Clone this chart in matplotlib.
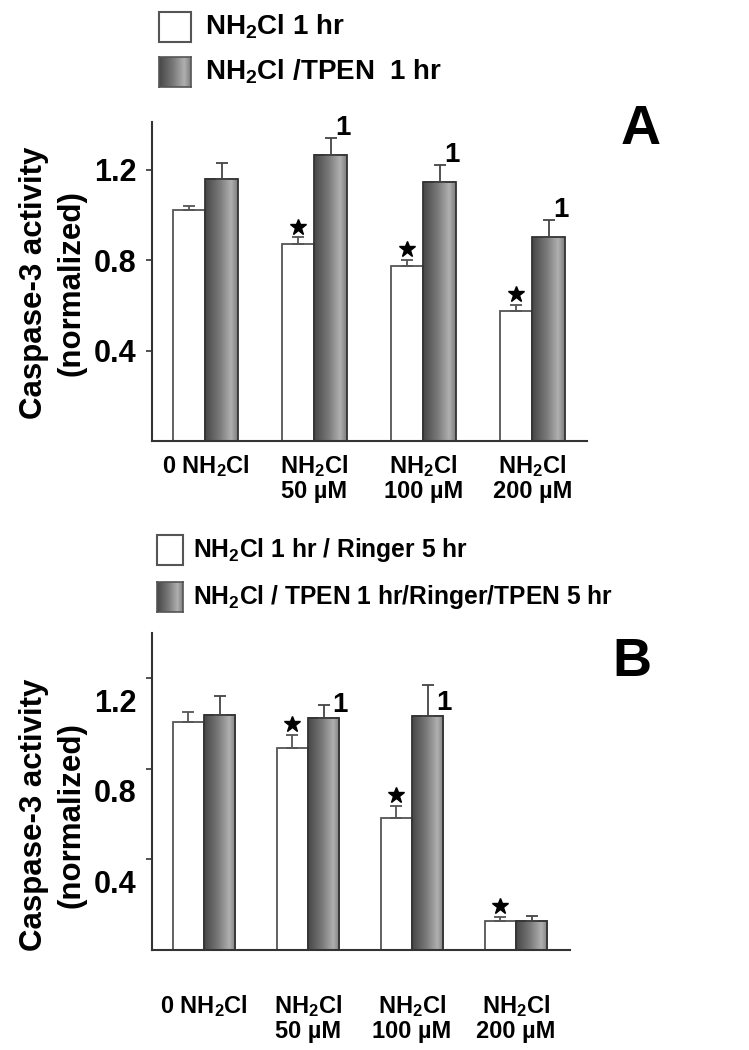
import matplotlib
matplotlib.use('Agg')
import matplotlib.pyplot as plt
import numpy as np
from matplotlib.colors import LinearSegmentedColormap
from matplotlib.patches import Rectangle
from matplotlib.transforms import ScaledTranslation

plt.rcParams['font.family'] = ['Liberation Sans', 'DejaVu Sans']
plt.rcParams['font.weight'] = 'bold'
plt.rcParams['mathtext.fontset'] = 'custom'
plt.rcParams['mathtext.rm'] = 'Liberation Sans:bold'
plt.rcParams['mathtext.it'] = 'Liberation Sans:bold'
plt.rcParams['mathtext.bf'] = 'Liberation Sans:bold'

# data
groups = ['0 NH$_2$Cl', 'NH$_2$Cl\n50 µM', 'NH$_2$Cl\n100 µM', 'NH$_2$Cl\n200 µM']
yticks = [0.4, 0.8, 1.2]

a_plain = [1.02, 0.87, 0.775, 0.575]
a_plain_err = [0.02, 0.03, 0.025, 0.025]
a_tpen = [1.16, 1.265, 1.145, 0.90]
a_tpen_err = [0.07, 0.075, 0.075, 0.075]
a_star = [False, True, True, True]
a_mark = [False, True, True, True]

b_plain = [1.005, 0.89, 0.585, 0.13]
b_plain_err = [0.045, 0.06, 0.05, 0.015]
b_tpen = [1.04, 1.025, 1.035, 0.13]
b_tpen_err = [0.08, 0.055, 0.135, 0.02]
b_star = [False, True, True, True]
b_mark = [False, True, True, False]

legend_a = ['NH$_2$Cl 1 hr', 'NH$_2$Cl /TPEN  1 hr']
legend_b = ['NH$_2$Cl 1 hr / Ringer 5 hr', 'NH$_2$Cl / TPEN 1 hr/Ringer/TPEN 5 hr']

W, H = 749, 1050
fig = plt.figure(figsize=(W / 100, H / 100), dpi=100)

grad = LinearSegmentedColormap.from_list(
    'bar', [(0, '#474747'), (0.45, '#7a7a7a'), (0.8, '#b0b0b0'), (1, '#7e7e7e')])
row = np.linspace(0, 1, 64).reshape(1, -1)


def px_axes(left, top, right, bottom):
    return fig.add_axes([left / W, 1 - bottom / H, (right - left) / W, (bottom - top) / H])


def panel(ax, plain, plain_err, tpen, tpen_err, star, mark, mark_dx, mark_dy,
          xlim, ymax, xpad, label_shift):
    x = np.arange(len(groups))
    w = 0.3
    xl = x - w / 2
    xr = x + w / 2
    ax.bar(xl, plain, w, color='white', edgecolor='#555555', linewidth=1.3, zorder=2)
    ax.bar(xr, tpen, w, color='none', edgecolor='#333333', linewidth=1.3, zorder=3)
    for xi, h in zip(xr, tpen):
        ax.imshow(row, extent=[xi - w / 2, xi + w / 2, 0, h], aspect='auto',
                  cmap=grad, interpolation='bicubic', zorder=2.5)
    zeros = np.zeros(len(groups))
    ax.errorbar(xl, plain, yerr=[zeros, plain_err], fmt='none', ecolor='#555555',
                elinewidth=1.3, capsize=4, capthick=1.3, zorder=4)
    ax.errorbar(xr, tpen, yerr=[zeros, tpen_err], fmt='none', ecolor='#444444',
                elinewidth=1.3, capsize=4, capthick=1.3, zorder=4)
    for i in range(len(groups)):
        if star[i]:
            ax.plot(xl[i], plain[i] + plain_err[i] + 0.048, marker='*', ms=12,
                    color='black', zorder=5)
        if mark[i]:
            ax.text(xr[i] + mark_dx, tpen[i] + mark_dy(tpen_err[i]), '1', fontsize=20,
                    fontweight='heavy', ha='center', va='center', zorder=5)

    ax.set_xlim(*xlim)
    ax.set_ylim(0, ymax)
    ax.set_xticks(x)
    ax.set_xticklabels(groups, fontsize=17, linespacing=1.05)
    ax.tick_params(axis='x', length=0, pad=xpad)
    ax.set_yticks(yticks)
    ax.set_yticklabels([f'{v:.1f}' for v in yticks], fontsize=22)
    ax.tick_params(axis='y', length=4, width=1.2, direction='out', pad=7, color='#333333')
    for lab in ax.get_yticklabels():
        lab.set_transform(lab.get_transform() + ScaledTranslation(0, -label_shift, fig.dpi_scale_trans))
    for s in ['top', 'right']:
        ax.spines[s].set_visible(False)
    for s in ['left', 'bottom']:
        ax.spines[s].set_linewidth(1.5)
        ax.spines[s].set_color('#333333')


ax_a = px_axes(152, 122, 587, 441)
panel(ax_a, a_plain, a_plain_err, a_tpen, a_tpen_err, a_star, a_mark,
      0.11, lambda e: e + 0.045, (-0.49, 3.5), 1.41, 9, 0)

ax_b = px_axes(152, 633, 570, 950)
panel(ax_b, b_plain, b_plain_err, b_tpen, b_tpen_err, b_star, b_mark,
      0.155, lambda e: 0.055, (-0.5, 3.52), 1.40, 31, 0.22)

# y labels
for cy in (283, 815):
    fig.text(34 / W, 1 - cy / H, 'Caspase-3 activity', rotation=90, ha='center',
             va='center', fontsize=22.5)
    fig.text(72 / W, 1 - cy / H, '(normalized)', rotation=90, ha='center',
             va='center', fontsize=22.5)

# panel letters
fig.text(641 / W, 1 - 130 / H, 'A', fontsize=40, ha='center', va='center')
fig.text(632 / W, 1 - 662 / H, 'B', fontsize=39, ha='center', va='center')


def legend(entries, box_left, box_w, box_h, centers, text_x, fsize):
    for k, (label, cy) in enumerate(zip(entries, centers)):
        top = cy - box_h / 2
        if k == 0:
            fig.patches.append(Rectangle((box_left / W, 1 - (top + box_h) / H), box_w / W, box_h / H,
                                         transform=fig.transFigure, facecolor='white',
                                         edgecolor='#555555', linewidth=1.5))
        else:
            lax = px_axes(box_left, top, box_left + box_w, top + box_h)
            lax.imshow(row, aspect='auto', cmap=grad, interpolation='bicubic')
            lax.set_xticks([])
            lax.set_yticks([])
            for s in lax.spines.values():
                s.set_color('#555555')
                s.set_linewidth(1.2)
        fig.text(text_x / W, 1 - cy / H, label, fontsize=fsize, ha='left', va='center')


legend(legend_a, 159, 32, 30, [27, 72], 205, 20)
legend(legend_b, 157, 26, 30, [550, 597], 193, 17.7)

fig.savefig('out.png', dpi=100)
